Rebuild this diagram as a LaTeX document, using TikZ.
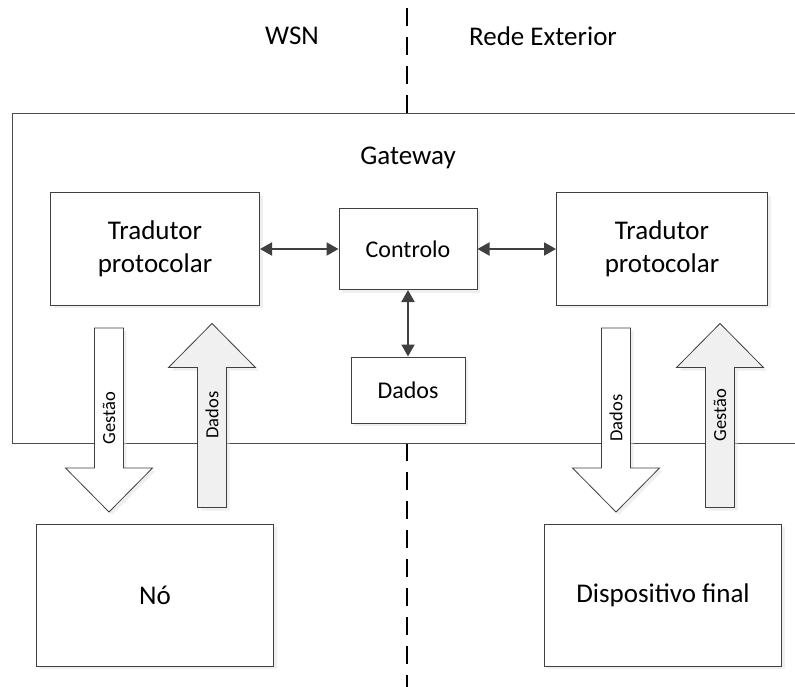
\documentclass[tikz,border=0pt]{standalone}
\usepackage{fontspec}
\setmainfont{Carlito}
\usetikzlibrary{positioning,calc,arrows.meta,shadows}
\tikzset{font=\fontsize{27pt}{33pt}\selectfont}
\tikzset{
	box/.style={draw=black!75, line width=1pt, fill=white, align=center,
		drop shadow={shadow xshift=3pt, shadow yshift=-3pt, fill=black!12}},
	dblarrow/.style={draw=black!75, line width=2pt,
		{Triangle[length=12pt,width=13pt]}-{Triangle[length=12pt,width=13pt]}},
	bigarrow/.style={draw=black!75, line width=0.8pt,
		drop shadow={shadow xshift=3pt, shadow yshift=-3pt, fill=black!12}}
}

\begin{document}
\begin{tikzpicture}[x=1pt, y=-1pt]
	\useasboundingbox (0,0) rectangle (795,687);

	% fronteira WSN / rede exterior
	\coordinate (sepa) at (407,8);
	\coordinate (sepb) at (407,687);
	\draw[line width=2.5pt, dash pattern=on 18pt off 11pt] (sepa) -- (sepb);
	\node (wsn) at (292,36) {WSN};
	\node (ext) at (543,36) {Rede Exterior};

	% gateway
	\fill[white] (12,114) rectangle (800,443);
	\draw[black!70, line width=1pt] (800,114) -- (12,114) -- (12,443) -- (800,443);
	\node (gw) at (408,158) {Gateway};

	\begin{scope}
		\tikzstyle{every node}=[box]
		\node[minimum width=209pt, minimum height=112pt] (trad1) at (155,249) {Tradutor\\protocolar};
		\node[minimum width=211pt, minimum height=112pt] (trad2) at (662,249) {Tradutor\\protocolar};
		\node[minimum width=138pt, minimum height=81pt, font=\fontsize{24pt}{29pt}\selectfont] (ctrl) at (408,249) {Controlo};
		\node[minimum width=114pt, minimum height=66pt, font=\fontsize{24pt}{29pt}\selectfont] (dados) at (408,390) {Dados};
		\node[minimum width=237pt, minimum height=142pt] (no) at (155,595) {Nó};
		\node[minimum width=237pt, minimum height=142pt] (disp) at (663,595) {Dispositivo final};
	\end{scope}

	\draw[dblarrow] (trad1.east) -- (ctrl.west);
	\draw[dblarrow] (ctrl.east) -- (trad2.west);
	\draw[dblarrow] (ctrl.south) -- (dados.north);

	% setas largas: x / centro y / sentido / cor
	\foreach \cx/\cy/\s/\c in {109/420/1/white, 212/415.5/-1/black!6, 616/420/1/white, 720/415.5/-1/black!6}{
		\draw[bigarrow, fill=\c] (\cx-14.5,\cy-\s*92) -- (\cx+14.5,\cy-\s*92) -- (\cx+14.5,\cy+\s*48)
			-- (\cx+43.5,\cy+\s*48) -- (\cx,\cy+\s*92) -- (\cx-43.5,\cy+\s*48) -- (\cx-14.5,\cy+\s*48) -- cycle;
	}
	\begin{scope}
		\tikzstyle{every node}=[rotate=90, inner sep=1pt, font=\fontsize{18.5pt}{22pt}\selectfont]
		\node (lg1) at (109,418) {Gestão};
		\node (ld1) at (212,415) {Dados};
		\node (ld2) at (616,418) {Dados};
		\node (lg2) at (720,415) {Gestão};
	\end{scope}
\end{tikzpicture}
\end{document}
